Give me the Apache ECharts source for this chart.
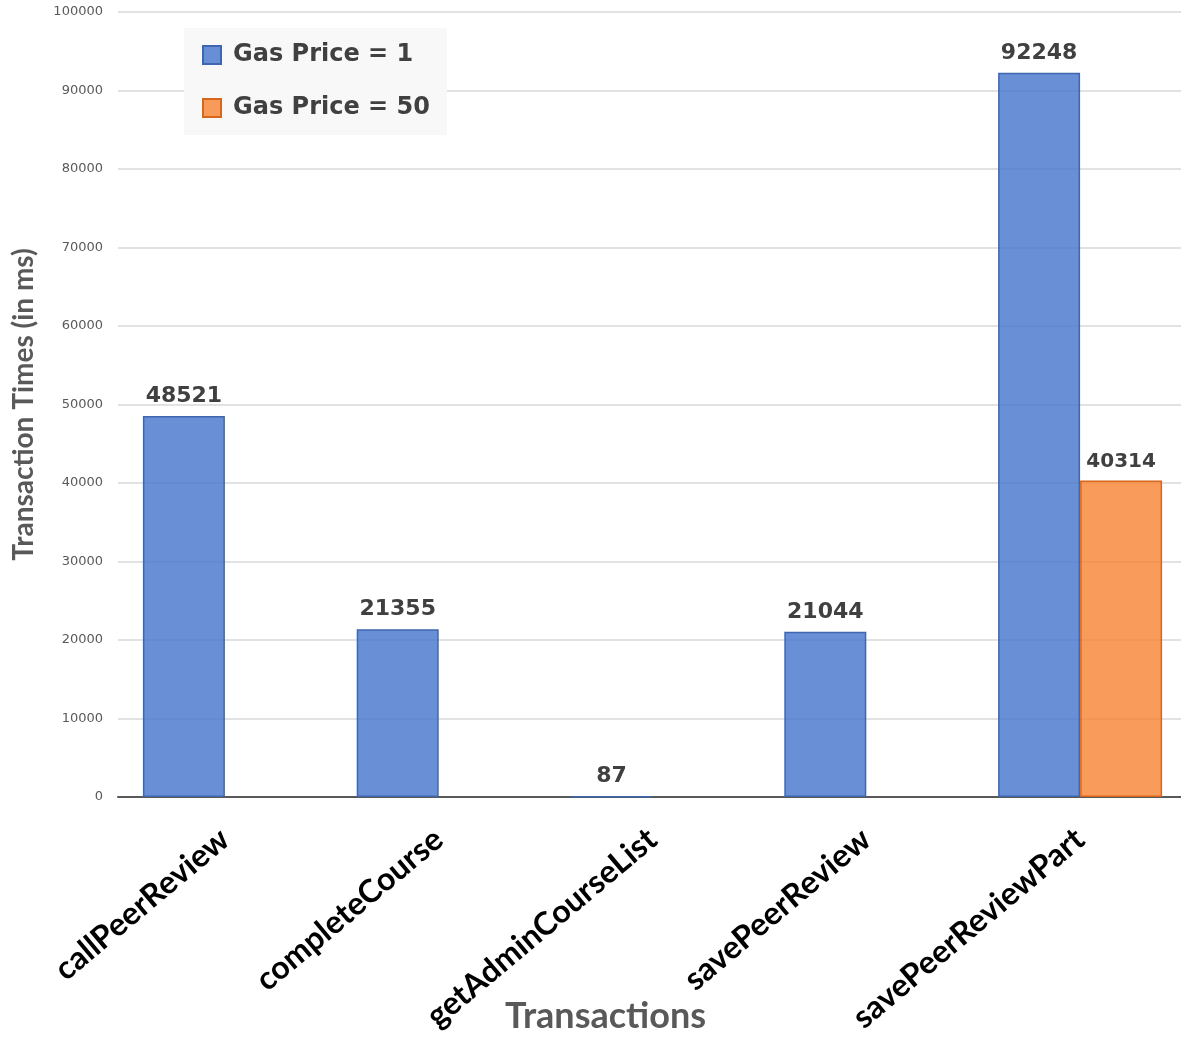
<!DOCTYPE html>
<html>
<head>
<meta charset="utf-8">
<script src="https://cdn.jsdelivr.net/npm/echarts@6/dist/echarts.min.js"></script>
<style>
  html, body { margin: 0; padding: 0; background: #fff; }
  #chart { width: 1181px; height: 1040px; }
</style>
</head>
<body>
<div id="chart"></div>
<script>
// Transaction times per smart-contract call, for two gas prices
const transactions = ['callPeerReview', 'completeCourse', 'getAdminCourseList', 'savePeerReview', 'savePeerReviewPart'];
const gasPrice1 = [48521, 21355, 87, 21044, 92248];
const gasPrice50 = [null, null, null, null, 40314];
const seriesNames = ['Gas Price = 1', 'Gas Price = 50'];

const chart = echarts.init(document.getElementById('chart'));

const valueLabel = (size) => ({
  show: true,
  position: 'top',
  distance: 9,
  fontFamily: 'DejaVu Sans',
  fontWeight: 'bold',
  fontSize: size,
  color: '#404040'
});

chart.setOption({
  animation: false,
  backgroundColor: '#ffffff',
  grid: { left: 118, right: -6, top: 12, bottom: 243, containLabel: false, outerBoundsMode: 'none' },
  legend: {
    orient: 'vertical',
    left: 184,
    top: 28,
    padding: [14, 17, 14, 18],
    itemGap: 27,
    itemWidth: 18,
    itemHeight: 18,
    backgroundColor: '#f8f8f8',
    textStyle: {
      fontFamily: 'DejaVu Sans', fontWeight: 'bold', fontSize: 24, color: '#404040',
      lineHeight: 26, padding: [0, 0, 0, 7]
    },
    data: seriesNames.map(n => ({ name: n, icon: 'rect' }))
  },
  xAxis: {
    type: 'category',
    data: transactions,
    name: 'Transactions',
    nameLocation: 'middle',
    nameGap: 201,
    nameMoveOverlap: false,
    nameTextStyle: {
      fontFamily: 'Lato', fontWeight: 'bold', fontSize: 36, color: '#595959',
      padding: [0, 94, 0, 0]
    },
    axisLine: { lineStyle: { color: '#595959', width: 2 } },
    axisTick: { show: false },
    axisLabel: {
      rotate: 40,
      margin: 38,
      interval: 0,
      fontFamily: 'Lato',
      fontWeight: 'bold',
      fontSize: 32,
      color: '#000000'
    }
  },
  yAxis: {
    type: 'value',
    min: 0,
    max: 100000,
    interval: 10000,
    name: 'Transaction Times (in ms)',
    nameLocation: 'middle',
    nameGap: 80,
    nameMoveOverlap: false,
    nameTextStyle: { fontFamily: 'Lato', fontWeight: 'bold', fontSize: 28, color: '#595959' },
    axisLine: { show: false },
    axisTick: { show: false },
    axisLabel: {
      fontFamily: 'DejaVu Sans', fontSize: 13, color: '#595959', margin: 15,
      formatter: (v) => String(v)
    },
    splitLine: { lineStyle: { color: '#d9d9d9', width: 1.5 } }
  },
  series: [
    {
      name: seriesNames[0],
      type: 'bar',
      data: gasPrice1,
      barWidth: 82,
      barGap: '0%',
      itemStyle: { color: 'rgba(72,120,205,0.82)', borderColor: '#3f66b0', borderWidth: 1.5 },
      label: valueLabel(22)
    },
    {
      name: seriesNames[1],
      type: 'bar',
      data: gasPrice50,
      barWidth: 82,
      barGap: '0%',
      itemStyle: { color: 'rgba(248,130,50,0.8)', borderColor: '#d8661c', borderWidth: 1.5 },
      label: valueLabel(20)
    }
  ]
});
</script>
</body>
</html>
